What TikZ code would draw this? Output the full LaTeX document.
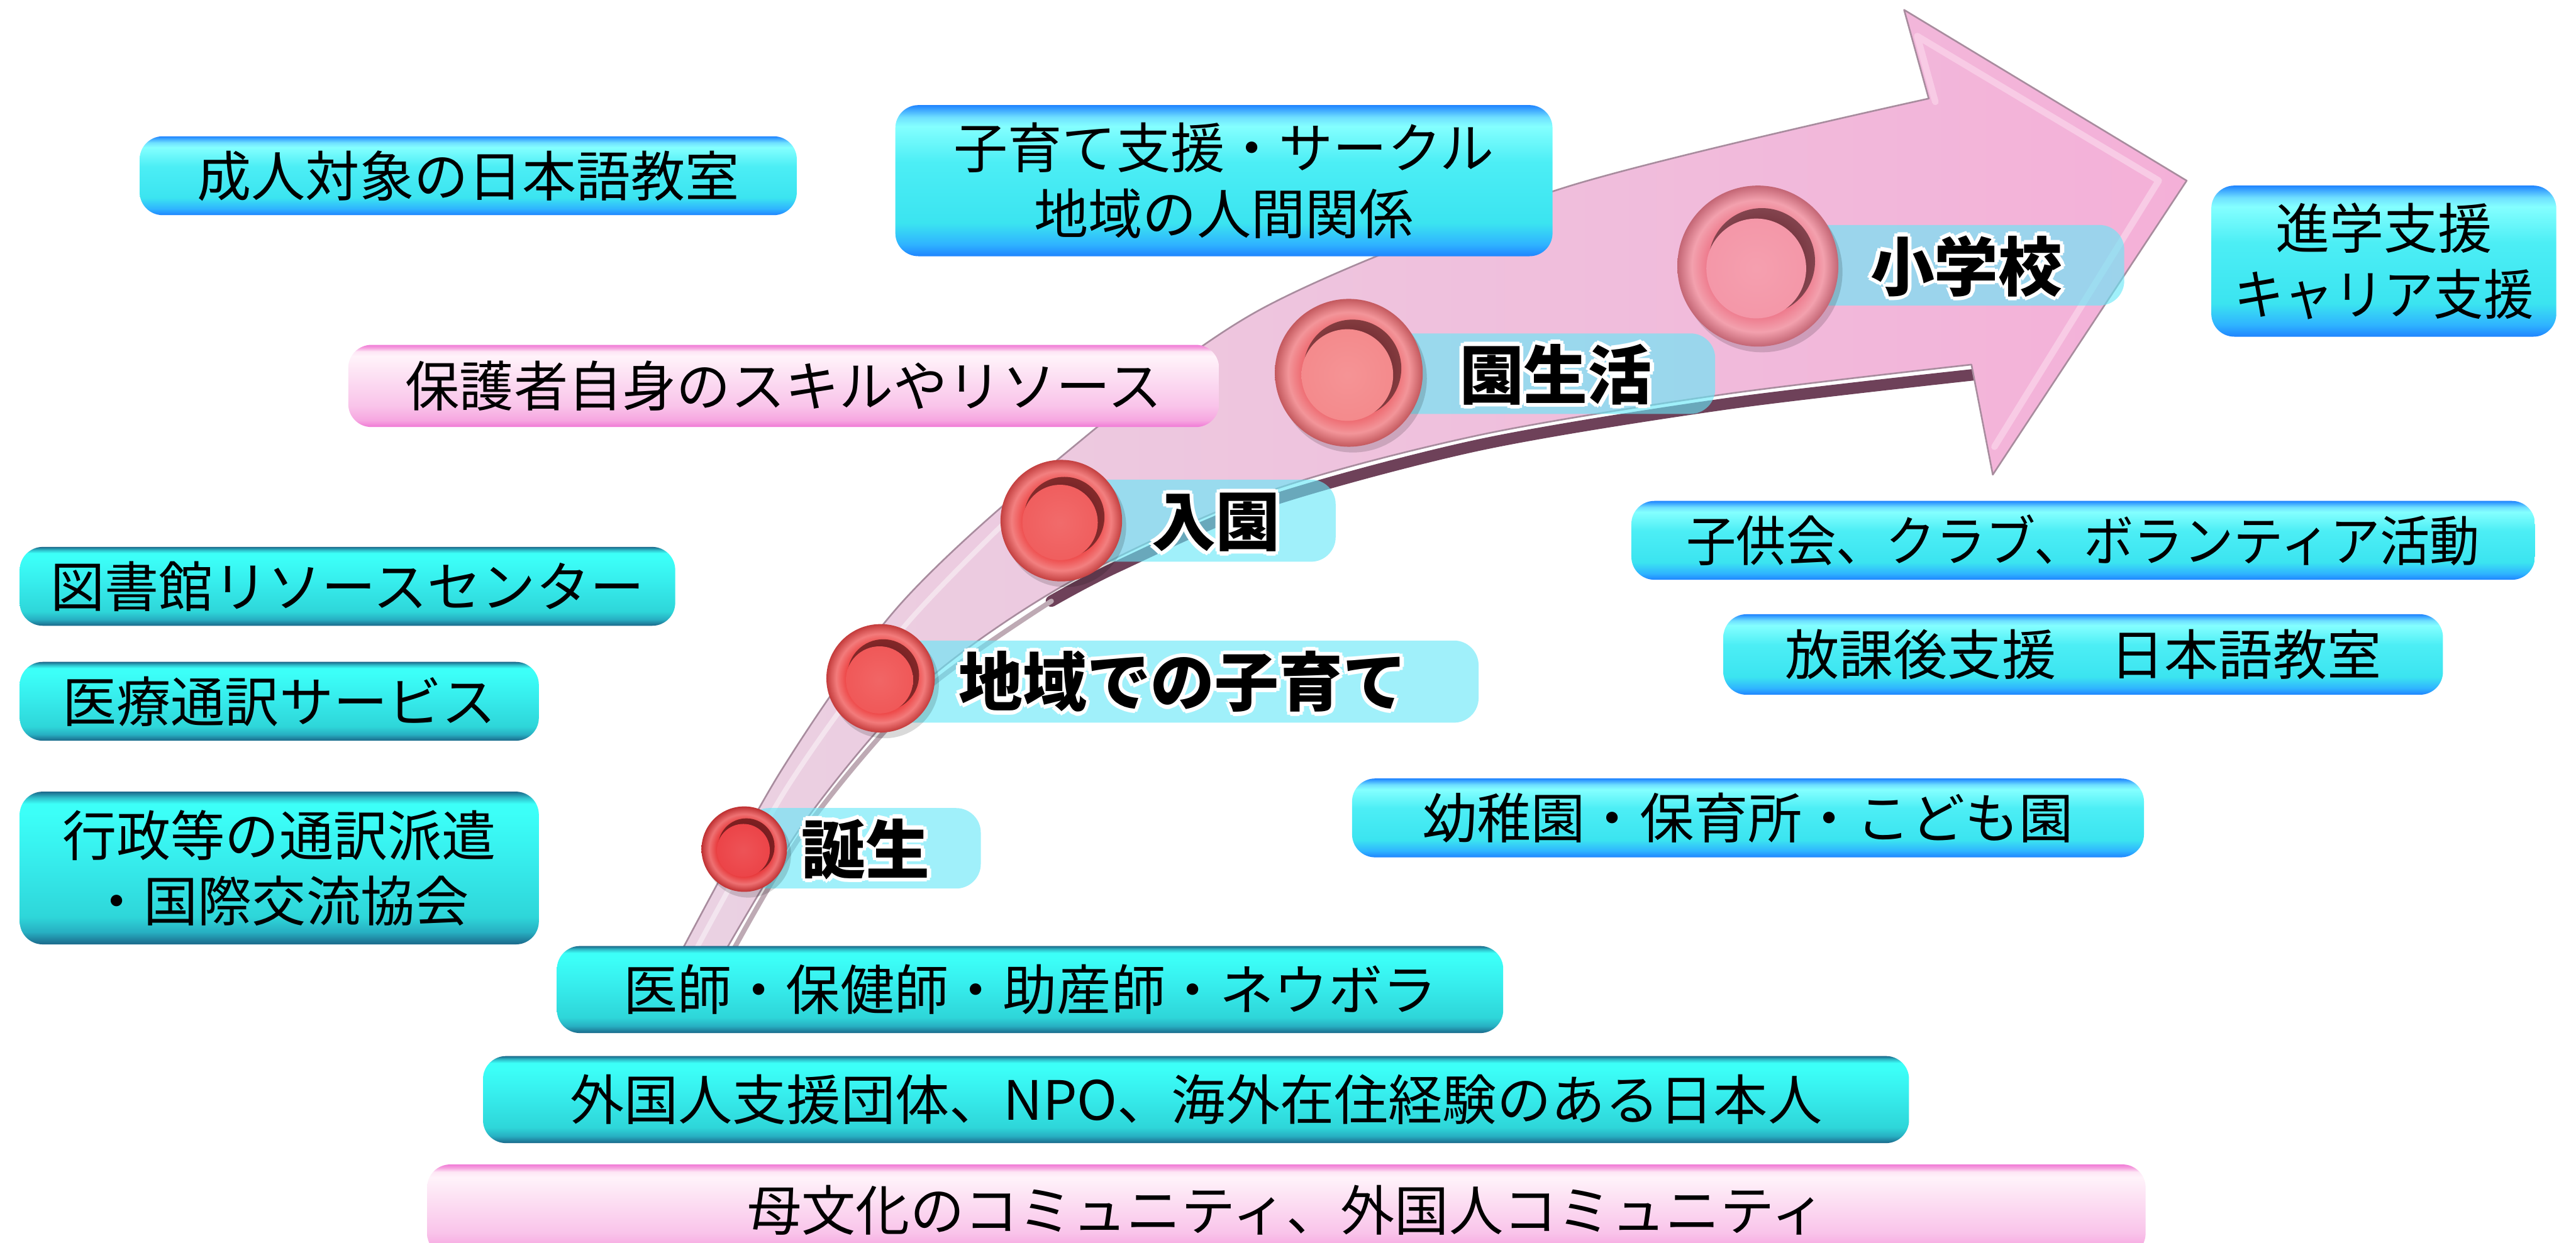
\documentclass[tikz,border=0pt]{standalone}
\usepackage{fontspec}
\setmainfont{Noto Sans CJK JP}
\usetikzlibrary{shapes.geometric}

% box gradient colours
\definecolor{bB}{HTML}{1F84FF}\definecolor{bC}{HTML}{2FB4FF}\definecolor{bD}{HTML}{3BE4F0}
\definecolor{bE}{HTML}{4CEEF5}\definecolor{bF}{HTML}{84FFFF}\definecolor{bG}{HTML}{6FE0FF}
\definecolor{tA}{HTML}{1B688A}\definecolor{tB}{HTML}{27AFC2}\definecolor{tC}{HTML}{2ED6D9}
\definecolor{tD}{HTML}{36ECEC}\definecolor{tE}{HTML}{3CFFF8}\definecolor{tF}{HTML}{2FC0CC}
\definecolor{pA}{HTML}{F07AD6}\definecolor{pB}{HTML}{F6A6E0}\definecolor{pC}{HTML}{F9C4EA}
\definecolor{pD}{HTML}{FDE6F5}\definecolor{pE}{HTML}{FFF3FA}
\definecolor{labelfill}{HTML}{66E8F8}
\definecolor{bandL}{HTML}{EAD2E2}\definecolor{bandR}{HTML}{F4B0D8}
\definecolor{bandedge}{HTML}{A88C9E}\definecolor{bandshadow}{HTML}{6E4159}
\definecolor{bevel}{HTML}{F8CBE5}
\definecolor{holedark}{HTML}{5A1420}
% marker colours
\definecolor{rA}{HTML}{E83A3C}\definecolor{fA}{HTML}{EC4448}
\definecolor{rB}{HTML}{EE4848}\definecolor{fB}{HTML}{F05858}
\definecolor{rC}{HTML}{EE4E4E}\definecolor{fC}{HTML}{F05E5E}
\definecolor{rD}{HTML}{EE6C72}\definecolor{fD}{HTML}{F48A8C}
\definecolor{rE}{HTML}{EE7C8E}\definecolor{fE}{HTML}{F497A8}

\pgfdeclareverticalshading{blueshade}{100bp}{color(0bp)=(bB); color(25bp)=(bB); color(29bp)=(bC); color(36bp)=(bD); color(56bp)=(bE); color(68bp)=(bF); color(71bp)=(bG); color(75bp)=(bB); color(100bp)=(bB)}
\pgfdeclareverticalshading{tealshade}{100bp}{color(0bp)=(tA); color(25bp)=(tA); color(29bp)=(tB); color(34bp)=(tC); color(52bp)=(tD); color(68bp)=(tE); color(71bp)=(tE); color(73bp)=(tF); color(75bp)=(tA); color(100bp)=(tA)}
\pgfdeclareverticalshading{pinkshade}{100bp}{color(0bp)=(pA); color(25bp)=(pA); color(29bp)=(pB); color(38bp)=(pC); color(60bp)=(pD); color(68bp)=(pE); color(71bp)=(pD); color(73bp)=(pB); color(75bp)=(pA); color(100bp)=(pA)}

\colorlet{ringA}{red}\colorlet{ringB}{red}\colorlet{ringC}{red}
\pgfdeclareradialshading[ringA,ringB,ringC]{ringsh}{\pgfpoint{0bp}{0bp}}{color(0bp)=(ringB); color(16bp)=(ringB); color(20.5bp)=(ringA); color(25bp)=(ringC); color(50bp)=(ringC)}

\tikzset{
  boxbase/.style={rectangle, rounded corners=14pt, inner sep=0pt, shade,
    font=\fontsize{33}{40}\selectfont, align=center},
  bluebox/.style={boxbase, shading=blueshade},
  tealbox/.style={boxbase, shading=tealshade},
  pinkbox/.style={boxbase, shading=pinkshade},
  stagebox/.style={rectangle, rounded corners=15pt, inner sep=0pt, fill=labelfill, fill opacity=0.62},
  stagetext/.style={font=\fontsize{39}{44}\selectfont\bfseries, inner sep=0pt}
}

% white outline round the stage names
\newcommand\halo[1]{\leavevmode
  \rlap{\color{white}\kern-2.5pt#1}\rlap{\color{white}\kern2.5pt#1}%
  \rlap{\color{white}\raisebox{2.5pt}{#1}}\rlap{\color{white}\raisebox{-2.5pt}{#1}}%
  \rlap{\color{white}\kern-1.8pt\raisebox{1.8pt}{#1}}\rlap{\color{white}\kern1.8pt\raisebox{1.8pt}{#1}}%
  \rlap{\color{white}\kern-1.8pt\raisebox{-1.8pt}{#1}}\rlap{\color{white}\kern1.8pt\raisebox{-1.8pt}{#1}}%
  #1}

% blood-cell style marker: name, x, y, r, ring colour, face colour
\newcommand\cellmark[6]{%
  \begin{scope}
  \colorlet{ringA}{#5!72!white}\colorlet{ringB}{#5}\colorlet{ringC}{#5!82!black}
  \fill[black, opacity=0.15] (#2+2.5,#3+3.5) circle[radius=#4];
  \node[circle, inner sep=0pt, minimum size=2*#4pt, shade, shading=ringsh] (#1) at (#2,#3) {};
  \shade[inner color=holedark, outer color=#5!55!black] (#2+0.05*#4,#3-0.06*#4) circle[radius=0.66*#4];
  \shade[inner color=#6!92!white, outer color=#6] (#2-0.02*#4,#3+0.03*#4) circle[radius=0.62*#4];
  \end{scope}}

\begin{document}
\begin{tikzpicture}[x=1pt,y=-1pt]
\useasboundingbox (0,0) rectangle (1568,756.5);
\clip (0,0) rectangle (1568,756.5);
\fill[white] (0,0) rectangle (1568,756.5);

% ---------- curved arrow ----------
\draw[bandshadow, line width=7pt, line cap=round]
  plot[smooth] coordinates {(640,366) (680,345) (770,306) (900,271) (1050,246) (1203,228)};
\draw[bandshadow!45!white, line width=3pt, line cap=round]
  plot[smooth] coordinates {(440,590) (490,505) (560,423) (640,366)};
\path[left color=bandL, right color=bandR, draw=bandedge, line width=1pt, line join=round]
  plot[smooth] coordinates {(408,592) (475,470) (547,369) (640,283) (768,188) (953,114) (1174,60)}
  -- (1159,6) -- (1331,110) -- (1213,289) -- (1200,222)
  -- plot[smooth] coordinates {(1200,222) (1050,240) (900,265) (770,300) (650,355) (560,418) (490,500) (434,592)}
  -- cycle;
\draw[bevel, line width=4pt, line join=round, line cap=round]
  (1178,62) -- (1167,22) -- (1314,110) -- (1214,272);
\draw[white, opacity=0.45, line width=3pt, line cap=round]
  plot[smooth] coordinates {(420,585) (480,478) (550,382) (620,310)};

% ---------- resource boxes ----------
\node[bluebox, minimum width=400pt, minimum height=48pt] (adult) at (285,107) {成人対象の日本語教室};
\node[bluebox, minimum width=400pt, minimum height=92pt] (circle) at (745,110) {子育て支援・サークル\\地域の人間関係};
\node[pinkbox, minimum width=530pt, minimum height=50pt] (parent) at (477,235) {保護者自身のスキルやリソース};
\node[tealbox, minimum width=399pt, minimum height=48pt] (library) at (211.5,357) {図書館リソースセンター};
\node[tealbox, minimum width=316pt, minimum height=48pt] (medint) at (170,427) {医療通訳サービス};
\node[tealbox, minimum width=316pt, minimum height=93pt] (admin) at (170,528.5) {行政等の通訳派遣\\・国際交流協会};
\node[tealbox, minimum width=576pt, minimum height=53pt] (doctor) at (627,602.5) {医師・保健師・助産師・ネウボラ};
\node[tealbox, minimum width=868pt, minimum height=53pt] (npo) at (728,669.5) {外国人支援団体、NPO、海外在住経験のある日本人};
\node[pinkbox, minimum width=1046pt, minimum height=56pt] (community) at (783,737) {母文化のコミュニティ、外国人コミュニティ};
\node[bluebox, minimum width=210pt, minimum height=92pt] (career) at (1451,159) {進学支援\\\scalebox{0.92}[1]{キャリア支援}};
\node[bluebox, minimum width=550pt, minimum height=48pt] (club) at (1268,329) {\scalebox{0.92}[1]{子供会、クラブ、ボランティア活動}};
\node[bluebox, minimum width=438pt, minimum height=49pt] (afterschool) at (1268,398.5) {放課後支援　日本語教室};
\node[bluebox, minimum width=482pt, minimum height=48pt] (kinder) at (1064,498) {幼稚園・保育所・こども園};

% ---------- stage labels ----------
\node[stagebox, minimum width=144pt, minimum height=49pt] (s1box) at (525,516.5) {};
\node[stagebox, minimum width=364pt, minimum height=50pt] (s2box) at (718,415) {};
\node[stagebox, minimum width=167pt, minimum height=50pt] (s3box) at (729.5,317) {};
\node[stagebox, minimum width=223pt, minimum height=49pt] (s4box) at (932.5,227.5) {};
\node[stagebox, minimum width=223pt, minimum height=49pt] (s5box) at (1181.5,161.5) {};

\cellmark{c1}{453}{517}{26}{rA}{fA}
\cellmark{c2}{536}{413}{33}{rB}{fB}
\cellmark{c3}{646}{317}{37}{rC}{fC}
\cellmark{c4}{821}{227}{45}{rD}{fD}
\cellmark{c5}{1070}{162}{49}{rE}{fE}

\node[stagetext] (t1) at (527,517) {\halo{誕生}};
\node[stagetext] (t2) at (720,415) {\halo{地域での子育て}};
\node[stagetext] (t3) at (740,318) {\halo{入園}};
\node[stagetext] (t4) at (947,228) {\halo{園生活}};
\node[stagetext] (t5) at (1197,162) {\halo{小学校}};
\end{tikzpicture}
\end{document}
